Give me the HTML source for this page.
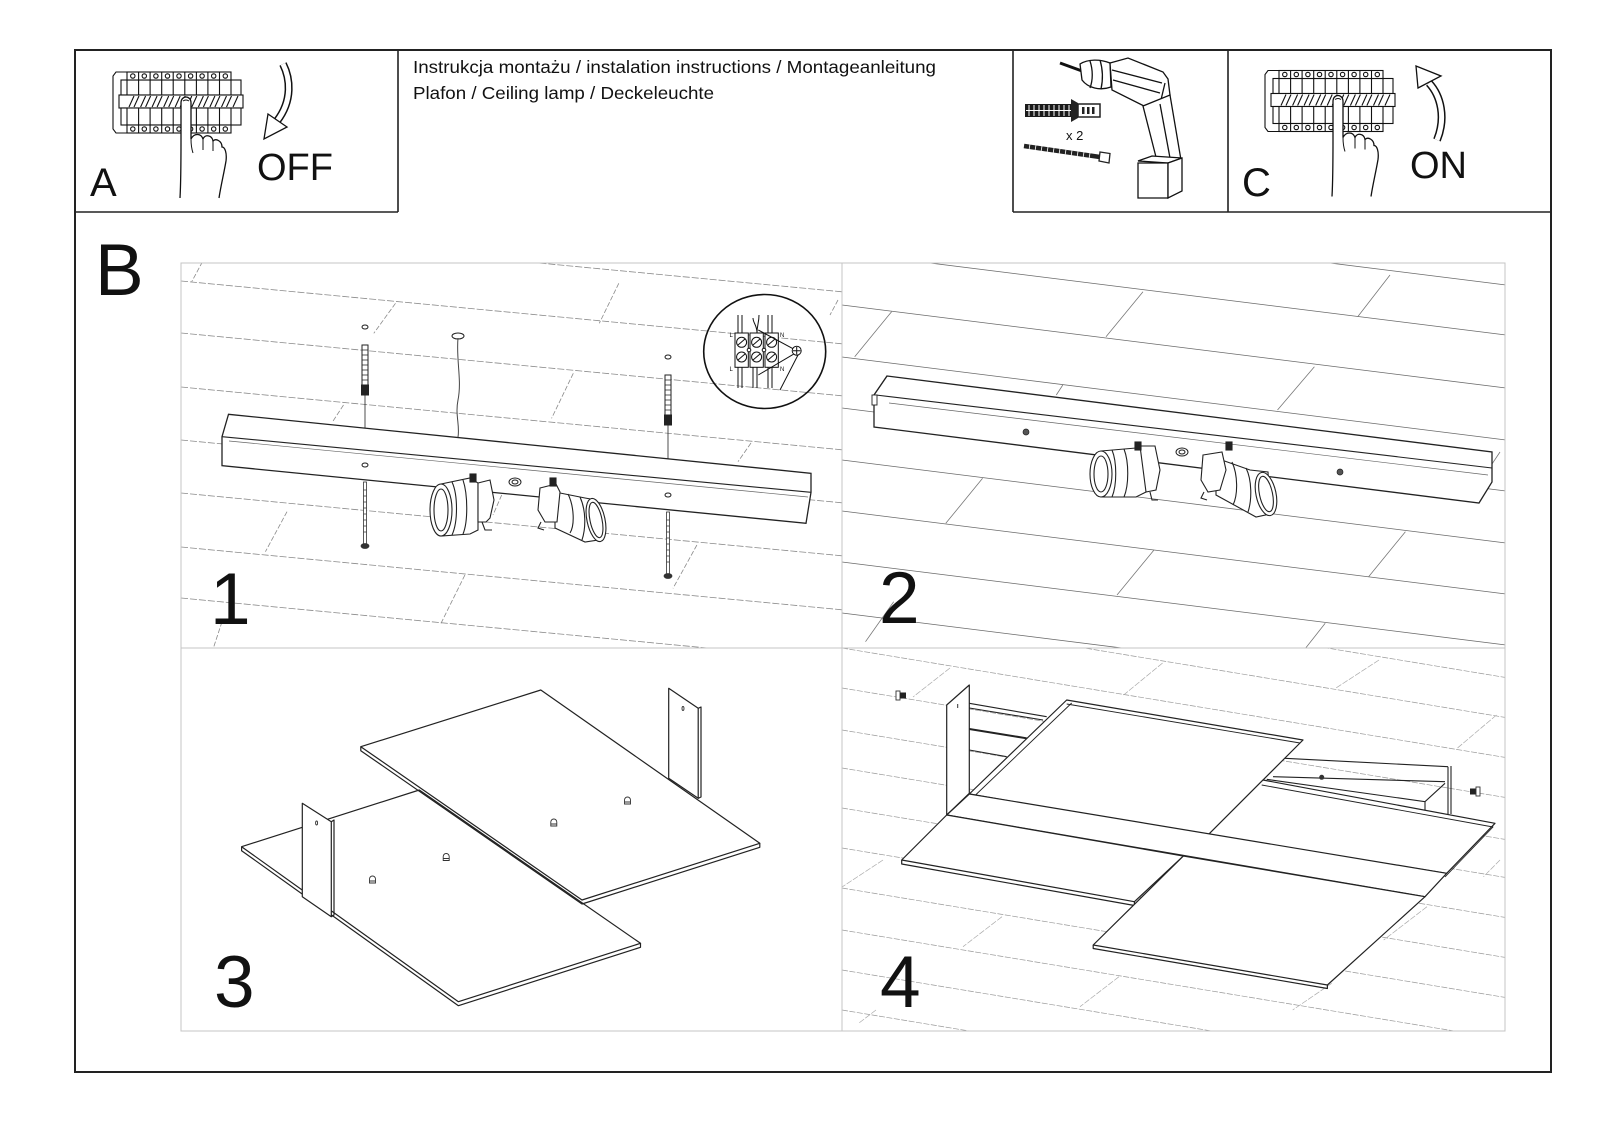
<!DOCTYPE html>
<html><head><meta charset="utf-8"><style>
html,body{margin:0;padding:0;background:#fff;}
svg{display:block;}
text{font-family:"Liberation Sans",Arial,sans-serif;fill:#111;}
</style></head><body>
<svg width="1600" height="1131" viewBox="0 0 1600 1131" xmlns="http://www.w3.org/2000/svg">
<defs>
<clipPath id="c1"><rect x="181" y="263" width="661" height="385"/></clipPath>
<clipPath id="c2"><rect x="842" y="263" width="663" height="385"/></clipPath>
<clipPath id="c4"><rect x="842" y="648" width="663" height="383"/></clipPath>
</defs>
<rect width="1600" height="1131" fill="#fff"/>

<!-- ===== frames ===== -->
<rect x="75" y="50" width="1476" height="1022" fill="none" stroke="#222" stroke-width="2"/>
<path d="M75,212 H398 M398,50 V212 M1013,50 V212 M1228,50 V212 M1013,212 H1551" stroke="#222" stroke-width="1.6" fill="none"/>

<!-- ===== header text ===== -->
<text x="413" y="73" font-size="17.5" textLength="523" lengthAdjust="spacingAndGlyphs">Instrukcja montażu / instalation instructions / Montageanleitung</text>
<text x="413" y="99" font-size="17.5" textLength="301" lengthAdjust="spacingAndGlyphs">Plafon / Ceiling lamp / Deckeleuchte</text>

<!-- ===== breaker A ===== -->
<g id="brkA">
<g fill="#fff" stroke="#111" stroke-width="1.1">
<path d="M127,72 H116 L113,76 V129 L116,133 H127"/>
<rect x="121" y="80" width="120" height="15"/>
<rect x="119" y="95" width="124" height="13"/>
<rect x="121" y="108" width="120" height="17"/>
<rect x="127" y="72" width="104" height="8"/>
<rect x="127" y="125" width="104" height="8"/>
<path fill="none" d="M138.6,72V95 M150.1,72V95 M161.7,72V95 M173.2,72V95 M184.8,72V95 M196.4,72V95 M207.9,72V95 M219.5,72V95 M138.6,108V133 M150.1,108V133 M161.7,108V133 M173.2,108V133 M184.8,108V133 M196.4,108V133 M207.9,108V133 M219.5,108V133 M127,80V95 M231,80V95 M127,108V125 M231,108V125"/>
<path fill="none" d="M129,107L134,96 M134,107L139,96 M140.6,107L145.6,96 M145.6,107L150.6,96 M152.1,107L157.1,96 M157.1,107L162.1,96 M163.7,107L168.7,96 M168.7,107L173.7,96 M175.2,107L180.2,96 M180.2,107L185.2,96 M186.8,107L191.8,96 M191.8,107L196.8,96 M198.4,107L203.4,96 M203.4,107L208.4,96 M209.9,107L214.9,96 M214.9,107L219.9,96 M221.5,107L226.5,96 M226.5,107L231.5,96 M233,107L238,96"/>
<g fill="none">
<circle cx="132.8" cy="76" r="2.2"/><circle cx="144.3" cy="76" r="2.2"/><circle cx="155.9" cy="76" r="2.2"/><circle cx="167.5" cy="76" r="2.2"/><circle cx="179" cy="76" r="2.2"/><circle cx="190.6" cy="76" r="2.2"/><circle cx="202.1" cy="76" r="2.2"/><circle cx="213.7" cy="76" r="2.2"/><circle cx="225.3" cy="76" r="2.2"/>
<circle cx="132.8" cy="129" r="2.2"/><circle cx="144.3" cy="129" r="2.2"/><circle cx="155.9" cy="129" r="2.2"/><circle cx="167.5" cy="129" r="2.2"/><circle cx="179" cy="129" r="2.2"/><circle cx="190.6" cy="129" r="2.2"/><circle cx="202.1" cy="129" r="2.2"/><circle cx="213.7" cy="129" r="2.2"/><circle cx="225.3" cy="129" r="2.2"/>
</g>
</g>
<path d="M180,198 C181,180 181,160 181,140 L181,103 C181,95 191,95 191,103 L191,139 C194,133 201,133 203,139 C205,134 212,135 213,141 C216,138 222,141 222,147 C225,147 227,153 226,161 C224,173 221,185 219,198" fill="#fff" stroke="#111" stroke-width="1.3"/>
<path d="M191,139 C191,146 192,150 193,153 M203,139 L203,150 M213,141 L213,151 M183,101 Q186,99 189,101" fill="none" stroke="#111" stroke-width="1"/>
</g>
<!-- breaker C (copy) -->
<g transform="translate(1152,-1.5)">
<g fill="#fff" stroke="#111" stroke-width="1.1">
<path d="M127,72 H116 L113,76 V129 L116,133 H127"/>
<rect x="121" y="80" width="120" height="15"/>
<rect x="119" y="95" width="124" height="13"/>
<rect x="121" y="108" width="120" height="17"/>
<rect x="127" y="72" width="104" height="8"/>
<rect x="127" y="125" width="104" height="8"/>
<path fill="none" d="M138.6,72V95 M150.1,72V95 M161.7,72V95 M173.2,72V95 M184.8,72V95 M196.4,72V95 M207.9,72V95 M219.5,72V95 M138.6,108V133 M150.1,108V133 M161.7,108V133 M173.2,108V133 M184.8,108V133 M196.4,108V133 M207.9,108V133 M219.5,108V133 M127,80V95 M231,80V95 M127,108V125 M231,108V125"/>
<path fill="none" d="M129,107L134,96 M134,107L139,96 M140.6,107L145.6,96 M145.6,107L150.6,96 M152.1,107L157.1,96 M157.1,107L162.1,96 M163.7,107L168.7,96 M168.7,107L173.7,96 M175.2,107L180.2,96 M180.2,107L185.2,96 M186.8,107L191.8,96 M191.8,107L196.8,96 M198.4,107L203.4,96 M203.4,107L208.4,96 M209.9,107L214.9,96 M214.9,107L219.9,96 M221.5,107L226.5,96 M226.5,107L231.5,96 M233,107L238,96"/>
<g fill="none">
<circle cx="132.8" cy="76" r="2.2"/><circle cx="144.3" cy="76" r="2.2"/><circle cx="155.9" cy="76" r="2.2"/><circle cx="167.5" cy="76" r="2.2"/><circle cx="179" cy="76" r="2.2"/><circle cx="190.6" cy="76" r="2.2"/><circle cx="202.1" cy="76" r="2.2"/><circle cx="213.7" cy="76" r="2.2"/><circle cx="225.3" cy="76" r="2.2"/>
<circle cx="132.8" cy="129" r="2.2"/><circle cx="144.3" cy="129" r="2.2"/><circle cx="155.9" cy="129" r="2.2"/><circle cx="167.5" cy="129" r="2.2"/><circle cx="179" cy="129" r="2.2"/><circle cx="190.6" cy="129" r="2.2"/><circle cx="202.1" cy="129" r="2.2"/><circle cx="213.7" cy="129" r="2.2"/><circle cx="225.3" cy="129" r="2.2"/>
</g>
</g>
<path d="M180,198 C181,180 181,160 181,140 L181,103 C181,95 191,95 191,103 L191,139 C194,133 201,133 203,139 C205,134 212,135 213,141 C216,138 222,141 222,147 C225,147 227,153 226,161 C224,173 221,185 219,198" fill="#fff" stroke="#111" stroke-width="1.3"/>
<path d="M191,139 C191,146 192,150 193,153 M203,139 L203,150 M213,141 L213,151 M183,101 Q186,99 189,101" fill="none" stroke="#111" stroke-width="1"/>
</g>

<!-- OFF arrow -->
<path d="M283,64 C290,78 293,100 277,121" fill="none" stroke="#111" stroke-width="8"/>
<path d="M283,64 C290,78 293,100 277,121" fill="none" stroke="#fff" stroke-width="5"/>
<polygon points="268,114 287,127 264,139" fill="#fff" stroke="#111" stroke-width="1.3"/>
<!-- ON arrow -->
<path d="M1437,140 C1446,118 1441,96 1429,83" fill="none" stroke="#111" stroke-width="8"/>
<path d="M1437,140 C1446,118 1441,96 1429,83" fill="none" stroke="#fff" stroke-width="5"/>
<polygon points="1418,88 1441,76 1416,66" fill="#fff" stroke="#111" stroke-width="1.3"/>

<!-- header letters -->
<text x="90" y="196" font-size="40">A</text>
<text x="257" y="180" font-size="38">OFF</text>
<text x="1242" y="196" font-size="40">C</text>
<text x="1410" y="178" font-size="38">ON</text>

<!-- ===== drill box ===== -->
<g stroke="#111" stroke-width="1.3" fill="#fff">
<line x1="1060" y1="63" x2="1082" y2="71" stroke-width="3"/>
<path d="M1080,64 C1088,59 1100,59 1110,63 L1111,87 C1100,91 1088,88 1082,80 Z"/>
<path d="M1090,61 C1093,70 1093,80 1090,88 M1100,60 C1103,70 1103,80 1101,89" fill="none"/>
<path d="M1110,63 L1128,58 L1163,72 L1168,79 L1170,95 L1160,104 L1146,107 L1112,90 Z"/>
<path d="M1112,70 L1162,83 M1113,80 L1160,93 M1160,104 L1165,83" fill="none"/>
<path d="M1143,106 L1170,95 L1181,160 L1157,161 Z"/>
<path d="M1160,104 L1170,158" fill="none"/>
<path d="M1138,161 L1152,156 L1182,158 L1168,163 Z"/>
<path d="M1138,163 H1168 V198 H1138 Z"/>
<path d="M1168,163 L1182,158 L1182,191 L1168,198 Z"/>
</g>
<!-- dowel -->
<rect x="1025" y="104" width="50" height="13" fill="#1a1a1a"/>
<path d="M1029,105V116 M1034,105V116 M1039,105V116 M1044,105V116 M1049,105V116 M1054,105V116 M1059,105V116 M1064,105V116 M1069,105V116 M1026,110.5H1074" stroke="#fff" stroke-width="1"/>
<polygon points="1071,99 1078,103 1078,118 1071,122" fill="#222"/>
<rect x="1078" y="104" width="22" height="13" fill="#fff" stroke="#222" stroke-width="1.5"/>
<rect x="1082" y="107" width="2.5" height="7" fill="#222"/><rect x="1087" y="107" width="2.5" height="7" fill="#222"/><rect x="1092" y="107" width="2.5" height="7" fill="#222"/>
<text x="1066" y="140" font-size="13">x 2</text>
<!-- screw -->
<line x1="1024" y1="146" x2="1100" y2="157" stroke="#222" stroke-width="4.5"/>
<path d="M1030,144 l-1,6 M1036,145 l-1,6 M1042,146 l-1,6 M1048,147 l-1,6 M1054,148 l-1,6 M1060,148.5 l-1,6 M1066,149.5 l-1,6 M1072,150.5 l-1,6 M1078,151.5 l-1,6 M1084,152 l-1,6 M1090,153 l-1,6" stroke="#fff" stroke-width="0.8"/>
<polygon points="1100,152 1110,153.5 1109,163 1099,161" fill="#fff" stroke="#222" stroke-width="1.3"/>

<!-- ===== B ===== -->
<text x="95" y="295" font-size="73">B</text>

<!-- ===== panel 1 planks ===== -->
<g clip-path="url(#c1)" stroke="#8a8a8a" stroke-width="0.8" stroke-dasharray="7 2" fill="none">
<path d="M181,229 L842,291.8 M181,281 L842,343.8 M181,333 L842,395.8 M181,387 L842,449.8 M181,440 L842,502.8 M181,493 L842,555.8 M181,547 L842,609.8 M181,598 L842,660.8"/>
<path stroke-dasharray="5 2" d="M202.5,261.7 L191.7,281.7 M395.5,303.3 L373.8,333.3 M618.8,283.3 L599.3,323.3 M343.5,405 L332.6,421.7 M573.3,373.3 L551.6,418.3 M751,443 L738,461.7 M287,511.7 L265.4,551.7 M464.9,575 L441,623.3 M696.9,545 L673,588.3 M222,621.7 L213.4,648 M501.7,495 L493,515 M838,300 L830,315"/>
</g>

<!-- panel 1 dowels, wire -->
<g stroke="#222" stroke-width="1">
<ellipse cx="365" cy="327" rx="3" ry="2" fill="none"/>
<rect x="362" y="345" width="6" height="42" fill="#fff"/>
<path d="M362,350h6 M362,355h6 M362,360h6 M362,365h6 M362,370h6 M362,375h6 M362,380h6" fill="none" stroke-width="0.7"/>
<rect x="361.5" y="385" width="7" height="10" fill="#222"/>
<line x1="365" y1="395" x2="365" y2="428" stroke-width="0.8"/>
<ellipse cx="668" cy="357" rx="3" ry="2" fill="none"/>
<rect x="665" y="375" width="6" height="42" fill="#fff"/>
<path d="M665,380h6 M665,385h6 M665,390h6 M665,395h6 M665,400h6 M665,405h6 M665,410h6" fill="none" stroke-width="0.7"/>
<rect x="664.5" y="415" width="7" height="10" fill="#222"/>
<line x1="668" y1="425" x2="668" y2="459" stroke-width="0.8"/>
<ellipse cx="458" cy="336" rx="6" ry="3" fill="none"/>
<path d="M458,338 C456,360 462,380 458,400 C455,415 460,425 458,437" fill="none" stroke="#444"/>
</g>

<!-- panel 1 lamp -->
<polygon points="228.5,414.3 811,473.3 811,492.3 806,523.3 222,465.7 222,436.7" fill="#fff" stroke="#222" stroke-width="1.3"/>
<path d="M222,436.7 L811,492.3" stroke="#222" stroke-width="1.1" fill="none"/>
<path d="M229,441 L808,497" stroke="#666" stroke-width="0.7" fill="none"/>
<ellipse cx="365" cy="465" rx="3" ry="2" fill="none" stroke="#222"/>
<ellipse cx="668" cy="495" rx="3" ry="2" fill="none" stroke="#222"/>
<ellipse cx="515" cy="482" rx="6" ry="4" fill="none" stroke="#222"/>
<ellipse cx="515" cy="482" rx="3" ry="2" fill="none" stroke="#222"/>
<!-- lower screws -->
<g stroke="#333" stroke-width="0.8">
<rect x="363.5" y="482" width="3" height="62" fill="#fff"/>
<path d="M363.5,490h3 M363.5,496h3 M363.5,502h3 M363.5,508h3 M363.5,514h3 M363.5,520h3 M363.5,526h3 M363.5,532h3" />
<ellipse cx="365" cy="546" rx="4" ry="2.5" fill="#333"/>
<rect x="666.5" y="512" width="3" height="62" fill="#fff"/>
<path d="M666.5,520h3 M666.5,526h3 M666.5,532h3 M666.5,538h3 M666.5,544h3 M666.5,550h3 M666.5,556h3 M666.5,562h3"/>
<ellipse cx="668" cy="576" rx="4" ry="2.5" fill="#333"/>
</g>
<!-- panel 1 sockets -->
<g stroke="#222" stroke-width="1.1" fill="#fff">
<polygon points="441,484 470,478 478,483 478,530 470,534 441,536"/>
<path d="M452,482 C458,495 458,522 452,535 M463,480 C468,495 468,522 463,534" fill="none"/>
<polygon points="478,483 490,480 494,500 490,518 486,522 478,522"/>
<path d="M482,522 L485,530 L492,530" fill="none"/>
<ellipse cx="441" cy="510" rx="11" ry="26"/>
<ellipse cx="441" cy="510" rx="7" ry="21"/>
<rect x="470" y="474" width="6" height="8" fill="#222"/>
<polygon points="555,492 585,498 596,500 598,540 585,542 555,528"/>
<path d="M568,494 C574,506 575,525 570,533 M580,497 C586,510 586,528 582,540" fill="none"/>
<polygon points="540,488 556,484 560,492 557,522 545,522 538,510"/>
<path d="M541,522 L538,528 L544,530" fill="none"/>
<ellipse cx="596" cy="520" rx="9" ry="22" transform="rotate(-12 596 520)"/>
<ellipse cx="596" cy="520" rx="6" ry="18" transform="rotate(-12 596 520)"/>
<rect x="550" y="478" width="6" height="8" fill="#222"/>
</g>

<!-- panel 1 inset -->
<ellipse cx="764.7" cy="351.5" rx="61" ry="57" fill="none" stroke="#111" stroke-width="1.6"/>
<g stroke="#111" stroke-width="1" fill="none">
<path d="M738,315V333 M742,315V333 M753,318 C753,323 757,325 757,333 M759,315 C759,323 757,325 757,333 M768,315V333 M772,315V333"/>
<path d="M738,367V388 M742,367V388 M753,367V388 M757,367V388 M768,367V388 M772,367V388"/>
<rect x="735" y="333" width="13.3" height="34.3" fill="#fff"/>
<rect x="750" y="333" width="13.3" height="34.3" fill="#fff"/>
<rect x="765" y="333" width="13.3" height="34.3" fill="#fff"/>
<circle cx="741.6" cy="342.3" r="5"/><circle cx="756.6" cy="342.3" r="5"/><circle cx="771.6" cy="342.3" r="5"/>
<circle cx="741.6" cy="357" r="5"/><circle cx="756.6" cy="357" r="5"/><circle cx="771.6" cy="357" r="5"/>
<path d="M738,345L745,339 M753,345L760,339 M768,345L775,339 M738,360L745,354 M753,360L760,354 M768,360L775,354"/>
<circle cx="749" cy="350" r="1.8" fill="#fff"/><circle cx="764" cy="350" r="1.8" fill="#fff"/>
<path d="M758.3,330 L796.7,350.7 M758.3,375 L795,353.3 M798,355 L780,390"/>
<circle cx="796.7" cy="350.7" r="4.5" fill="#fff"/>
<path d="M796.7,347V354.5 M793,350.7H800.4"/>
</g>
<text x="729.5" y="337" font-size="6">L</text>
<text x="729.5" y="371" font-size="6">L</text>
<text x="780" y="337" font-size="6">N</text>
<text x="780" y="371" font-size="6">N</text>

<!-- ===== panel 2 ===== -->
<g clip-path="url(#c2)" stroke="#6a6a6a" stroke-width="0.8" fill="none">
<path d="M842,202 L1505,284.9 M842,252 L1505,334.9 M842,305 L1505,387.9 M842,357 L1505,439.9 M842,408 L1505,490.9 M842,460 L1505,542.9 M842,511 L1505,593.9 M842,562 L1505,644.9 M842,613 L1505,695.9"/>
<path stroke="#777" d="M891.6,311.7 L854.7,356.7 M1143,291.7 L1106,336.7 M1390,275 L1357.7,316.7 M1062.8,385 L1056.3,395 M1314.4,366.7 L1277.5,410 M982.6,478.3 L945.8,523.3 M1154,550 L1117,595 M1405.4,531.7 L1368.6,576.7 M893.7,601.7 L865.5,641.7 M1325.2,623.3 L1305.7,648 M1500,452 L1488,470"/>
</g>
<polygon points="887,376 1492,452 1492,482 1479,503 874,427 874,395" fill="#fff" stroke="#222" stroke-width="1.3"/>
<path d="M874,395 L887,376 M876,395 L1492,468" stroke="#222" stroke-width="1.1" fill="none"/>
<path d="M889,403 L1488,475" stroke="#666" stroke-width="0.7" fill="none"/>
<rect x="872" y="395" width="5" height="10" fill="#fff" stroke="#222" stroke-width="0.9"/>
<circle cx="1026" cy="432" r="3" fill="#555" stroke="#222" stroke-width="0.7"/>
<circle cx="1340" cy="472" r="3" fill="#555" stroke="#222" stroke-width="0.7"/>
<ellipse cx="1182" cy="452" rx="6" ry="4" fill="none" stroke="#222"/>
<ellipse cx="1182" cy="452" rx="3" ry="2" fill="none" stroke="#222"/>
<g stroke="#222" stroke-width="1.1" fill="#fff">
<polygon points="1101,451 1136,448 1148,452 1150,490 1136,497 1101,497"/>
<path d="M1112,450 C1117,462 1117,485 1112,497 M1124,449 C1129,462 1129,485 1124,497" fill="none"/>
<polygon points="1140,446 1155,446 1160,470 1156,490 1146,492"/>
<path d="M1150,492 L1152,500 L1158,500" fill="none"/>
<ellipse cx="1101" cy="474" rx="11" ry="23"/>
<ellipse cx="1101" cy="474" rx="7" ry="18"/>
<rect x="1135" y="442" width="6" height="8" fill="#222"/>
<polygon points="1216,458 1250,470 1268,472 1270,514 1256,517 1216,495"/>
<path d="M1232,462 C1238,475 1238,495 1233,505 M1246,468 C1252,480 1252,500 1248,512" fill="none"/>
<polygon points="1203,455 1222,452 1226,470 1220,490 1208,492 1201,480"/>
<path d="M1204,492 L1201,498 L1207,500" fill="none"/>
<ellipse cx="1266" cy="494" rx="10" ry="22" transform="rotate(-12 1266 494)"/>
<ellipse cx="1266" cy="494" rx="6.5" ry="18" transform="rotate(-12 1266 494)"/>
<rect x="1226" y="442" width="6" height="8" fill="#222"/>
</g>

<!-- ===== panel 3 ===== -->
<g stroke="#222" stroke-width="1.2" fill="#fff" stroke-linejoin="round">
<polygon points="241.6,846.7 419.3,790 640.5,943.3 458.4,1001.7"/>
<path d="M241.6,846.7 L241.6,850.7 L458.4,1005.7 L640.5,947.3 L640.5,943.3" fill="none"/>
<polygon points="302.3,803.3 331.3,821.7 331.3,916.7 302.3,896.7"/>
<path d="M331.3,821.7 L334,820 L334,915 L331.3,916.7" fill="none"/>
<polygon points="360.8,746.7 540.8,690 759.8,843.3 582,900"/>
<path d="M360.8,746.7 L360.8,750.7 L582,904 L759.8,847.3 L759.8,843.3" fill="none"/>
<polygon points="668.7,688.3 698.2,708.3 698.2,798.3 668.7,778.3"/>
<path d="M698.2,708.3 L701,707 L701,797 L698.2,798.3" fill="none"/>
</g>
<g stroke="#333" stroke-width="0.9" fill="#fff">
<ellipse cx="316.6" cy="823" rx="1" ry="2"/>
<ellipse cx="683" cy="708.5" rx="1" ry="2"/>
<path d="M369.5,883 V879 A3,3 0 0 1 375.5,879 V883 Z M369.5,881H375.5"/>
<path d="M443.2,860.5 V856.5 A3,3 0 0 1 449.2,856.5 V860.5 Z M443.2,858.5H449.2"/>
<path d="M550.8,826 V822 A3,3 0 0 1 556.8,822 V826 Z M550.8,824H556.8"/>
<path d="M624.5,804 V800 A3,3 0 0 1 630.5,800 V804 Z M624.5,802H630.5"/>
</g>

<!-- ===== panel 4 ===== -->
<g clip-path="url(#c4)" stroke="#9a9a9a" stroke-width="0.7" stroke-dasharray="6 1.5" fill="none">
<path d="M842,568 L1505,677.4 M842,608 L1505,717.4 M842,648 L1505,757.4 M842,688 L1505,797.4 M842,730 L1505,839.4 M842,768 L1505,877.4 M842,808 L1505,917.4 M842,848 L1505,957.4 M842,888 L1505,997.4 M842,930 L1505,1039.4 M842,970 L1505,1079.4 M842,1010 L1505,1119.4"/>
<path stroke="#aaa" d="M950,668 L913,697 M1162.6,663 L1123.6,695 M1379,660 L1336,688 M1496.5,715 L1457.5,748 M883,860 L842.5,886.7 M1002,916.7 L963,946.7 M1427,906.7 L1383.7,940 M1119,976.7 L1080,1006.7 M1331.7,983.3 L1292.7,1010 M876,1010 L859,1023 M1500,860 L1483.5,876.7"/>
</g>
<g stroke="#222" stroke-width="1.1" fill="none">
<path d="M969.3,703.3 L1046.7,716.7 M969.3,708 L1043,720 M969.3,750 L1006.7,756.7"/>
<path d="M969.3,729 L1026.7,738.3" stroke-width="2"/>
<path d="M1285,758.3 L1448,766.7 M1273,776.7 L1445,781.7"/>
<path d="M1266.7,779.3 L1425,801.7 L1445,783.3 M1425,801.7 L1425,810"/>
<path d="M1448,766.7 L1448,815 M1451,766 L1451,814" />
</g>
<circle cx="1321.7" cy="777.3" r="2.5" fill="#333"/>
<g stroke="#222" stroke-width="1.2" fill="#fff" stroke-linejoin="round">
<polygon points="946.7,705 969.3,685 969.3,793.3 946.7,815"/>
<polygon points="1066.7,700 1303,740 1208,835 969.3,794"/>
<path d="M1071.7,703 L974.5,796 M1066.7,704 L1300,743" fill="none" stroke-width="0.9"/>
<polygon points="1263,780 1495,823.3 1446.7,873.3 1208,835"/>
<path d="M1261.7,785 L1493,827 L1445,877" fill="none" stroke-width="0.9"/>
<polygon points="969.3,794 1446.7,873.3 1425,896.7 946.7,815"/>
<polygon points="946.7,815 1183.4,856 1134.4,901.7 901.7,860"/>
<path d="M901.7,860 L901.7,864 L1134.4,905.5 L1134.4,901.7" fill="none"/>
<polygon points="1183.4,856 1425,896.7 1327.4,985 1093.2,945"/>
<path d="M1093.2,945 L1093.2,948.5 L1327.4,988.5 L1327.4,985" fill="none"/>
</g>
<path d="M957.7,704 V708" stroke="#333" stroke-width="1"/>
<!-- screws -->
<rect x="896" y="691" width="4" height="9" fill="#fff" stroke="#333" stroke-width="0.9"/>
<rect x="900" y="692.5" width="6" height="6" fill="#222"/>
<rect x="1470" y="788.5" width="6" height="6" fill="#222"/>
<rect x="1476" y="787" width="4" height="9" fill="#fff" stroke="#333" stroke-width="0.9"/>

<!-- ===== panel borders ===== -->
<g stroke="#c4c4c4" stroke-width="1" fill="none">
<rect x="181" y="263" width="1324" height="768"/>
<path d="M842,263 V1031 M181,648 H1505"/>
</g>

<!-- numbers -->
<text x="210" y="624" font-size="73">1</text>
<text x="879" y="623" font-size="73">2</text>
<text x="214" y="1007" font-size="73">3</text>
<text x="880" y="1007" font-size="73">4</text>
</svg>
</body></html>
